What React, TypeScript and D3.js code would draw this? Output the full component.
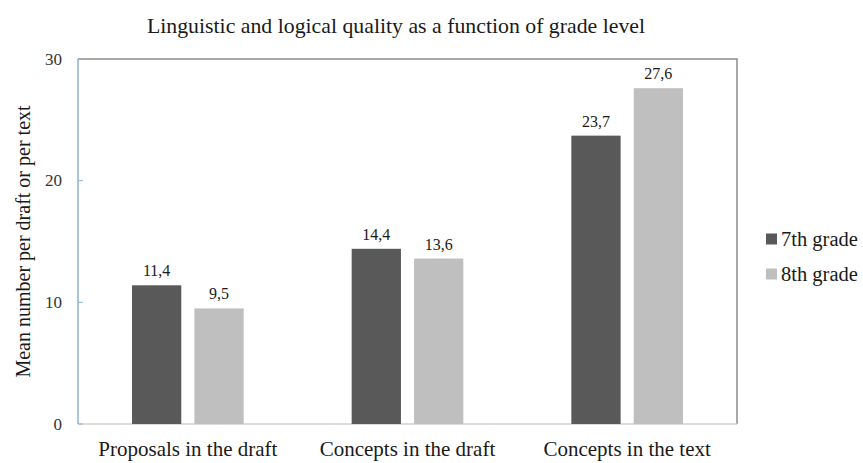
import { useRef, useEffect } from "react";
import * as d3 from "d3";

const categories = ["Proposals in the draft", "Concepts in the draft", "Concepts in the text"];
const seriesNames = ["7th grade", "8th grade"];
const grade7 = [11.4, 14.4, 23.7];
const grade8 = [9.5, 13.6, 27.6];
const yTicks = [0, 10, 20, 30];
const colors = ["#595959", "#bfbfbf"];

const W = 863;
const H = 463;

const App = () => {
  const svgRef = useRef<SVGSVGElement | null>(null);
  const margin = { top: 59, right: 126, bottom: 39, left: 78 };

  useEffect(() => {
    if (!svgRef.current) return;
    const svg = d3.select(svgRef.current);
    svg.selectAll("*").remove();

    const font = "Liberation Serif";
    const x0 = margin.left;
    const x1 = W - margin.right;
    const yTop = margin.top;
    const yBot = H - margin.bottom;

    const xScale = d3.scaleBand().domain(categories).range([x0, x1]);
    const inner = d3
      .scaleBand()
      .domain(seriesNames)
      .range([54, xScale.bandwidth() - 54])
      .paddingInner(0.21);
    const yScale = d3.scaleLinear().domain([0, 30]).range([yBot, yTop]);

    // Title
    svg.append("text")
      .attr("x", 396)
      .attr("y", 33)
      .attr("text-anchor", "middle")
      .style("font-family", font)
      .attr("font-size", 21.8)
      .attr("fill", "#1a1a1a")
      .text("Linguistic and logical quality as a function of grade level");

    // frame (top and right)
    svg.append("path")
      .attr("d", `M${x0},${yTop}H${x1}V${yBot}`)
      .attr("fill", "none")
      .attr("stroke", "#8c8c8c")
      .attr("stroke-width", 1.5);

    // bottom axis line
    svg.append("line")
      .attr("x1", x0).attr("x2", x1)
      .attr("y1", yBot).attr("y2", yBot)
      .attr("stroke", "#d0d0d0")
      .attr("stroke-width", 1.5);

    // left axis
    svg.append("line")
      .attr("x1", x0).attr("x2", x0)
      .attr("y1", yTop).attr("y2", yBot)
      .attr("stroke", "#8fb0d0")
      .attr("stroke-width", 1.5);

    svg.selectAll(".ytick")
      .data(yTicks)
      .enter()
      .append("line")
      .attr("x1", x0).attr("x2", x0 + 5)
      .attr("y1", d => yScale(d)).attr("y2", d => yScale(d))
      .attr("stroke", "#8fb0d0")
      .attr("stroke-width", 1);

    svg.selectAll(".ylabel")
      .data(yTicks)
      .enter()
      .append("text")
      .attr("x", 62)
      .attr("y", d => yScale(d) + 5.5)
      .attr("text-anchor", "end")
      .style("font-family", font)
      .attr("font-size", 17)
      .attr("fill", "#333")
      .text(d => d);

    // y title
    svg.append("text")
      .attr("transform", `translate(30,${(yTop + yBot) / 2}) rotate(-90)`)
      .attr("text-anchor", "middle")
      .style("font-family", font)
      .attr("font-size", 20)
      .attr("fill", "#1a1a1a")
      .text("Mean number per draft or per text");

    // bars
    const values = [grade7, grade8];
    const groups = svg.selectAll(".grp")
      .data(categories)
      .enter()
      .append("g")
      .attr("transform", d => `translate(${xScale(d)},0)`);

    seriesNames.forEach((s, si) => {
      groups.append("rect")
        .attr("x", inner(s) || 0)
        .attr("width", inner.bandwidth())
        .attr("y", (_d, i) => yScale(values[si][i]))
        .attr("height", (_d, i) => yBot - yScale(values[si][i]))
        .attr("fill", colors[si]);

      groups.append("text")
        .attr("x", (inner(s) || 0) + inner.bandwidth() / 2)
        .attr("y", (_d, i) => yScale(values[si][i]) - 9)
        .attr("text-anchor", "middle")
        .style("font-family", font)
        .attr("font-size", 16)
        .attr("fill", "#1a1a1a")
        .text((_d, i) => String(values[si][i]).replace(".", ","));
    });

    // category labels
    svg.selectAll(".xlabel")
      .data(categories)
      .enter()
      .append("text")
      .attr("x", d => (xScale(d) || 0) + xScale.bandwidth() / 2)
      .attr("y", 456)
      .attr("text-anchor", "middle")
      .style("font-family", font)
      .attr("font-size", 21)
      .attr("fill", "#1a1a1a")
      .text(d => d);

    // legend
    const legend = svg.selectAll(".leg")
      .data(seriesNames)
      .enter()
      .append("g")
      .attr("transform", (_d, i) => `translate(766,${239 + i * 35})`);
    legend.append("rect")
      .attr("x", 0).attr("y", -5.5)
      .attr("width", 11).attr("height", 11)
      .attr("fill", (_d, i) => colors[i]);
    legend.append("text")
      .attr("x", 15)
      .attr("y", 7)
      .style("font-family", font)
      .attr("font-size", 20.5)
      .attr("fill", "#1a1a1a")
      .text(d => d);
  }, []);

  return (
    <svg
      ref={svgRef}
      width={W}
      height={H}
      style={{ position: "absolute", left: 0, top: 0, background: "#fff" }}
    ></svg>
  );
};

export default App;
